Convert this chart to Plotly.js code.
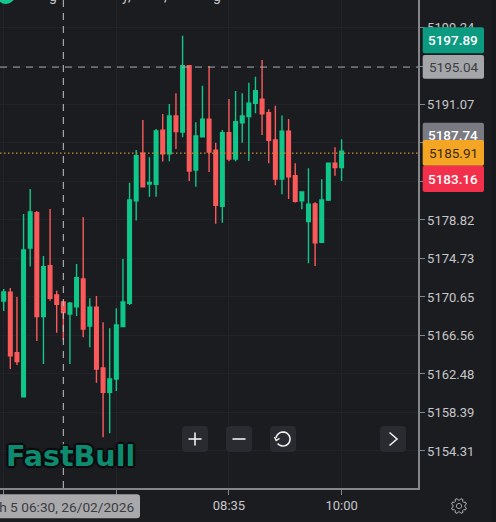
<!DOCTYPE html>
<html><head><meta charset="utf-8">
<script src="https://cdn.plot.ly/plotly-3.0.1.min.js"></script>
<style>html,body{margin:0;padding:0;background:#1b1c20;overflow:hidden}#c{width:496px;height:522px}</style>
</head><body><div id="c"></div>
<script>
const day = '2026-02-26 ';
const times = ['05:45','05:50','05:55','06:00','06:05','06:10','06:15','06:20','06:25','06:30','06:35','06:40','06:45','06:50','06:55','07:00','07:05','07:10','07:15','07:20','07:25','07:30','07:35','07:40','07:45','07:50','07:55','08:00','08:05','08:10','08:15','08:20','08:25','08:30','08:35','08:40','08:45','08:50','08:55','09:00','09:05','09:10','09:15','09:20','09:25','09:30','09:35','09:40','09:45','09:50','09:55','10:00'];
const highs = [5171.50,5171.61,5170.65,5179.46,5182.11,5179.78,5175.00,5179.99,5171.32,5170.26,5170.12,5174.15,5179.11,5170.51,5170.76,5167.97,5167.33,5169.45,5174.68,5182.78,5186.25,5189.43,5185.47,5188.47,5190.07,5191.13,5192.26,5198.37,5195.19,5189.19,5193.07,5195.16,5187.02,5188.37,5191.66,5192.51,5192.26,5193.39,5194.02,5195.79,5190.56,5190.95,5189.89,5189.54,5184.84,5181.79,5184.30,5180.70,5183.14,5184.84,5186.53,5187.38];
const lows = [5169.17,5163.01,5163.44,5160.04,5173.87,5165.98,5163.54,5170.26,5166.86,5166.09,5163.54,5168.64,5166.38,5165.31,5161.56,5155.77,5156.19,5160.68,5167.47,5169.80,5178.75,5182.32,5181.29,5181.29,5185.01,5185.05,5186.35,5187.59,5182.96,5182.35,5187.59,5183.91,5178.43,5178.53,5185.05,5185.05,5187.02,5185.08,5190.14,5187.84,5184.84,5182.50,5181.55,5181.05,5180.66,5179.96,5174.23,5173.94,5176.38,5180.84,5183.52,5182.96];
const opens = [5170.23,5171.15,5164.74,5160.07,5175.85,5179.59,5168.56,5173.97,5170.86,5170.12,5168.85,5169.62,5172.56,5167.57,5169.56,5163.12,5160.54,5161.95,5167.50,5169.98,5180.84,5185.90,5182.64,5182.61,5188.34,5185.85,5189.85,5188.16,5195.19,5184.12,5187.63,5189.50,5186.21,5180.27,5188.08,5185.29,5189.14,5189.78,5191.20,5191.63,5190.20,5187.31,5183.17,5188.23,5183.52,5180.84,5178.64,5180.52,5176.45,5180.94,5184.84,5184.37];
const closes = [5171.18,5164.42,5163.79,5175.64,5179.67,5168.56,5173.87,5170.51,5169.88,5168.99,5169.98,5172.70,5167.26,5169.56,5163.01,5160.54,5161.95,5167.68,5170.12,5180.94,5185.64,5182.35,5182.80,5188.26,5185.85,5189.85,5188.19,5195.19,5184.02,5187.73,5189.50,5186.03,5180.38,5188.08,5185.29,5189.25,5189.85,5191.20,5192.54,5190.07,5187.28,5183.17,5188.23,5183.41,5180.80,5181.79,5180.49,5176.41,5180.94,5184.84,5184.37,5186.11];
const priceTicks = [5199.24,5195.15,5191.07,5186.99,5182.90,5178.82,5174.73,5170.65,5166.56,5162.48,5158.39,5154.31];
const priceTickText = ['5199.24','','5191.07','','','5178.82','5174.73','5170.65','5166.56','5162.48','5158.39','5154.31'];
const timeTicks = ['05:45','07:10','08:35','10:00'];
const timeTickText = ['','','08:35','10:00'];
const crossTime = '06:30';
const crossPrice = 5195.04;
const lastPrice = 5185.91;
const crossLabel = 'Th 5 06:30, 26/02/2026';
const logoText = 'FastBull';
const tags = [
  {text:'5197.89',top:27.3,bot:53.3,fill:'#0c9a80',color:'#ffffff',w:500},
  {text:'5195.04',top:55,bot:78.7,fill:'#a5a6aa',color:'#3c3d42',w:400},
  {text:'5187.74',top:122.7,bot:146,cy:134.5,fill:'#797a82',color:'#ffffff',w:500},
  {text:'5185.91',top:140,bot:165.7,fill:'#f5a524',color:'#3a2c10',w:400},
  {text:'5183.16',top:165.7,bot:192,fill:'#f2304b',color:'#ffffff',w:500}
];
const titleScraps = [{t:'g',x:53},{t:'y,',x:127},{t:',',x:165},{t:'g',x:217}];

const W=418, H=488;
const px = x => x/W, py = y => (H-y)/H;
const pt = (x,y) => px(x)+','+py(y);
function rr(x0,y0,x1,y1,r){
  return 'M'+pt(x0+r,y0)+' L'+pt(x1-r,y0)+' Q'+pt(x1,y0)+' '+pt(x1,y0+r)+' L'+pt(x1,y1-r)+' Q'+pt(x1,y1)+' '+pt(x1-r,y1)+' L'+pt(x0+r,y1)+' Q'+pt(x0,y1)+' '+pt(x0,y1-r)+' L'+pt(x0,y0+r)+' Q'+pt(x0,y0)+' '+pt(x0+r,y0)+' Z';
}
const base = {xref:'paper',yref:'paper',layer:'above'};
const box = (x0,y0,x1,y1,r,fill)=>({...base,type:'path',path:rr(x0,y0,x1,y1,r),fillcolor:fill,line:{width:0}});
const stroke = (pts,color,w,close)=>({...base,type:'path',path:pts.map((p,i)=>(i?'L':'M')+pt(p[0],p[1])).join(' ')+(close?' Z':''),line:{color:color,width:w}});
const arc=(cx,cy,r,a0,a1,n)=>{const o=[];for(let i=0;i<=n;i++){const a=(a0+(a1-a0)*i/n)*Math.PI/180;o.push([cx+r*Math.cos(a),cy+r*Math.sin(a)]);}return o;};
function gear(cx,cy){const o=[];for(let i=0;i<8;i++){const a=i*45;
  for(const [d,r] of [[-16,5.9],[-8,7.6],[8,7.6],[16,5.9]]){
    const t=(a+d+22.5)*Math.PI/180;o.push([cx+r*Math.cos(t),cy+r*Math.sin(t)]);}}
  return o;}

const shapes = [
  {...base,layer:'below',type:'rect',x0:px(491.5),x1:px(496),y0:py(522),y1:py(0),fillcolor:'#17181b',line:{width:0}},
  {type:'line',xref:'paper',yref:'y',x0:0,x1:1,y0:lastPrice,y1:lastPrice,layer:'above',line:{color:'#c98f33',width:1.4,dash:'1.5px,2.5px'}},
  {type:'line',xref:'paper',yref:'y',x0:0,x1:1,y0:crossPrice,y1:crossPrice,layer:'above',line:{color:'#a9a9ad',width:1,dash:'7px,6px'}},
  {type:'line',xref:'x',yref:'paper',x0:day+crossTime,x1:day+crossTime,y0:0,y1:1,layer:'above',line:{color:'#c4c4c8',width:1,dash:'7px,6px'}},
  ...tags.map(t=>box(422.7,t.top,484,t.bot,2,t.fill)),
  box(-3,494.3,140,518.3,3,'#a9a9ac'),
  box(182,426,208,452,4,'#2a2b30'), box(226,426,252,452,4,'#2a2b30'),
  box(270,426,296,452,4,'#2a2b30'), box(380,426,406,452,4,'#2a2b30'),
  stroke([[188.5,439],[201.5,439]],'#f0f0f0',1.6), stroke([[195,432.5],[195,445.5]],'#f0f0f0',1.6),
  stroke([[232.5,439],[245.5,439]],'#f0f0f0',1.6),
  stroke([[389.5,432.5],[397,439],[389.5,445.5]],'#f0f0f0',1.6),
  stroke(arc(283,439,7,-170,140,24),'#f0f0f0',1.6),
  stroke([[274.5,437],[276.2,440.5],[279.5,438.3]],'#f0f0f0',1.5),
  stroke(gear(459,506),'#b5b5b8',1,true),
  stroke(arc(459,506,2.6,0,360,20),'#b5b5b8',1,true),
  {...base,type:'circle',x0:px(-3),x1:px(15),y0:py(4),y1:py(-14),fillcolor:'#12c78b',line:{width:0}}
];

const note=(x,y,text,font,extra)=>Object.assign({xref:'paper',yref:'paper',x:px(x),y:py(y),text:text,showarrow:false,xanchor:'center',yanchor:'middle',font:font,borderpad:0},extra||{});
const annotations = [
  ...titleScraps.map(s=>note(s.x,-4,s.t,{family:'Roboto',size:14,color:'#c6c6c8'})),
  ...tags.map(t=>note(453.4,t.cy||(t.top+t.bot)/2,t.text,{family:'Roboto',size:13.5,color:t.color,weight:t.w})),
  note(135.5,506.5,crossLabel,{family:'Roboto',size:13.7,color:'#3a3b40'},{xanchor:'right'}),
  note(70.5,456,logoText,{family:'DejaVu Sans',size:28.5,color:'#0e8a70',weight:700,shadow:'1px 1px 1px #0a0b0d, -1px -1px 1px #0a0b0d, 1px -1px 1px #0a0b0d, -1px 1px 1px #0a0b0d, 2px 0 1px #0a0b0d, -2px 0 1px #0a0b0d, 0 2px 1px #0a0b0d, 0 -2px 1px #0a0b0d'})
];

Plotly.newPlot('c',[{
  type:'candlestick',
  x:times.map(t=>day+t),open:opens,high:highs,low:lows,close:closes,
  whiskerwidth:0,hoverinfo:'skip',
  increasing:{line:{color:'#10c78a',width:1.4},fillcolor:'#10c78a'},
  decreasing:{line:{color:'#fb5a5a',width:1.4},fillcolor:'#fb5a5a'}
}],{
  width:496,height:522,autosize:false,showlegend:false,
  paper_bgcolor:'#1b1c20',plot_bgcolor:'#1b1c20',
  margin:{l:0,r:78,t:0,b:34,pad:0},
  boxgap:0.22,
  xaxis:{type:'date',rangeslider:{visible:false},range:['2026-02-26 05:42:13','2026-02-26 10:57:39'],
    tickmode:'array',tickvals:timeTicks.map(t=>day+t),ticktext:timeTickText,
    showgrid:true,gridcolor:'#222328',gridwidth:1,zeroline:false,showline:true,linecolor:'#85868a',linewidth:1.5,
    ticks:'outside',ticklen:5,tickcolor:'#85868a',tickfont:{family:'Roboto',size:13,color:'#c6c6c8'}},
  yaxis:{side:'right',range:[5150.384,5202.156],fixedrange:true,
    tickmode:'array',tickvals:priceTicks,ticktext:priceTickText,
    showgrid:true,gridcolor:'#222328',gridwidth:1,zeroline:false,showline:true,linecolor:'#85868a',linewidth:1.5,
    ticks:'outside',ticklen:5,tickcolor:'#85868a',tickfont:{family:'Roboto',size:13,color:'#c6c6c8'}},
  shapes:shapes,annotations:annotations
},{displayModeBar:false,staticPlot:true});
</script></body></html>
